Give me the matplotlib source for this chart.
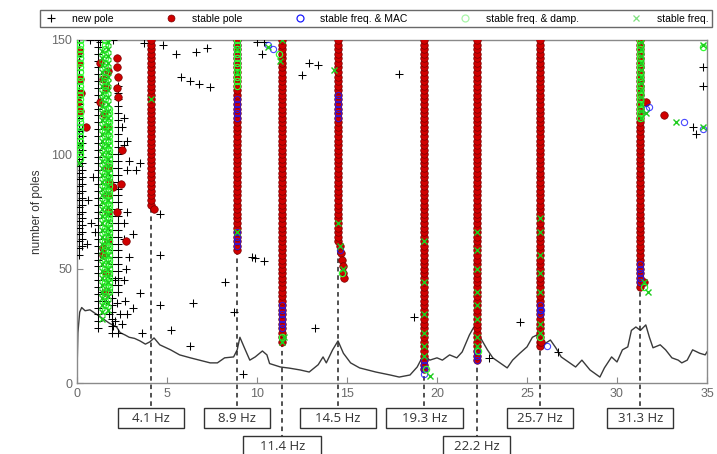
import numpy as np
import matplotlib
matplotlib.use("Agg")
import matplotlib.pyplot as plt
from matplotlib.lines import Line2D
from matplotlib.patches import Rectangle

# ---------------------------------------------------------------- data
# Averaged response spectrum, scaled onto the model-order axis
spec_freq = [0.0, 0.05, 0.15, 0.26, 0.45, 0.72, 1.0, 1.28, 1.55, 1.83, 2.2, 2.4,
             2.67, 2.9, 3.2, 3.5, 3.8, 4.05, 4.28, 4.6, 5.2, 5.7, 6.3, 6.8, 7.4,
             7.8, 8.2, 8.7, 8.9, 9.05, 9.3, 9.6, 9.9, 10.3, 10.55, 10.7, 11.3,
             11.8, 12.4, 12.9, 13.4, 13.67, 13.85, 14.2, 14.5, 14.8, 15.2, 15.7,
             16.6, 17.4, 17.9, 18.5, 18.9, 19.25, 19.6, 20.0, 20.3, 20.7, 21.1,
             21.4, 21.8, 22.05, 22.4, 22.8, 23.1, 23.5, 23.9, 24.2, 24.6, 25.0,
             25.3, 25.55, 25.9, 26.3, 26.6, 26.9, 27.3, 27.7, 28.05, 28.5, 29.05,
             29.3, 29.7, 30.0, 30.3, 30.6, 30.8, 31.05, 31.3, 31.6, 31.8, 32.0,
             32.4, 32.7, 33.05, 33.4, 33.6, 33.9, 34.2, 34.6, 34.9, 35.0]
spec_level = [5.0, 22.0, 31.0, 33.0, 31.6, 32.0, 30.5, 29.0, 27.5, 26.0, 24.5, 22.0,
              21.0, 20.0, 19.5, 18.4, 17.0, 18.0, 19.7, 16.7, 14.5, 12.3, 11.0, 10.0, 8.8,
              8.8, 11.0, 11.4, 14.5, 20.0, 15.4, 10.0, 11.4, 14.0, 12.3, 8.5, 7.0,
              6.5, 5.7, 4.8, 8.0, 11.4, 8.8, 14.5, 18.4, 13.0, 8.8, 6.6,
              4.8, 3.5, 2.6, 3.5, 7.0, 12.3, 10.0, 11.0, 10.0, 12.3, 11.0,
              13.6, 21.0, 24.5, 20.0, 14.5, 11.0, 8.8, 6.6, 10.0, 13.0, 15.8,
              20.0, 21.0, 16.7, 18.8, 15.4, 11.4, 9.2, 7.0, 10.0, 5.7, 2.6,
              6.6, 11.4, 9.2, 14.5, 15.8, 23.0, 24.5, 23.0, 25.4, 20.0, 15.4,
              16.7, 14.5, 11.0, 10.0, 8.8, 10.0, 14.5, 13.0, 12.3, 13.6]

# Identified modes
mode_freq = [4.1, 8.9, 11.4, 14.5, 19.3, 22.2, 25.7, 31.3]
mode_label = ["4.1 Hz", "8.9 Hz", "11.4 Hz", "14.5 Hz", "19.3 Hz", "22.2 Hz",
              "25.7 Hz", "31.3 Hz"]
mode_row = [0, 0, 1, 0, 0, 1, 0, 0]

# Stable-pole columns: frequency and lowest/highest model order
col_freq = [4.1, 8.9, 11.4, 14.5, 19.3, 22.2, 25.7, 31.3]
col_lo = [78, 58, 18, 62, 6, 10, 16, 42]
col_hi = [150, 150, 150, 150, 150, 150, 150, 150]

# Isolated stable poles
stab_f = [0.1, 0.12, 0.15, 0.05, 0.2, 0.5, 0.15,
          1.3, 1.7, 1.45, 1.6, 1.3, 1.5, 1.65,
          2.2, 2.2, 2.25, 2.2, 2.3,
          2.5, 1.7, 1.8, 2.0, 2.45, 1.7, 2.2, 1.7, 2.7, 1.7, 1.45, 1.45, 1.6, 1.55,
          4.3, 14.6, 14.65, 14.7, 14.75, 14.8, 14.85,
          31.5, 31.6, 32.6, 25.8]
stab_n = [145, 140, 133, 123, 127, 112, 119,
          140, 136.6, 133, 129, 123, 117.6, 112,
          142, 138, 134, 129, 125,
          102, 94.5, 88, 85.5, 87, 82, 74.6, 74.6, 62, 62, 59, 56, 48, 40,
          76, 60, 57, 54, 51, 48, 46,
          44, 123, 117, 18]

# Stable frequency & MAC poles (blue): column runs and single poles
mac_seg_f = [8.9, 8.9, 8.9, 11.4, 14.5, 19.3, 22.2, 25.7, 31.3, 0.15]
mac_seg_lo = [116, 60, 140, 24, 116, 4, 10, 30, 44, 110]
mac_seg_hi = [124, 66, 150, 34, 126, 10, 14, 34, 52, 114]
mac_f = [26.1, 10.6, 10.9, 31.6, 31.8, 33.7, 34.8, 0.15, 14.6, 25.8]
mac_n = [16, 148, 146, 120, 120.5, 114, 111, 142, 58, 32]

# Stable frequency & damping poles (light green circles)
damp_seg_f = [31.3, 1.55, 0.15, 8.9, 1.75]
damp_seg_lo = [116, 32, 98, 130, 40]
damp_seg_hi = [150, 150, 150, 150, 120]
damp_f = [11.4, 19.4, 22.3, 25.7, 14.7, 31.5, 34.8, 11.2]
damp_n = [20, 6, 14, 20, 48, 42, 147, 144]

# Stable frequency poles (green crosses)
sfreq_seg_f = [31.35, 1.4, 1.7]
sfreq_seg_lo = [116, 28, 32]
sfreq_seg_hi = [150, 146, 150]
sfreq_f = [19.3, 19.3, 19.3, 19.3, 19.3, 19.3, 19.6,
           22.2, 22.2, 22.2, 22.2, 22.2, 22.2, 22.2, 22.2,
           25.7, 25.7, 25.7, 25.7, 25.7, 25.7, 25.7,
           14.5, 14.6, 14.8, 11.4, 11.5, 11.4, 8.9, 8.9, 8.9, 4.1,
           14.3, 31.7, 31.5, 10.6, 11.3, 34.8, 33.3, 34.8, 31.6, 0.15, 0.1]
sfreq_n = [62, 44, 30, 22, 16, 12, 3,
           66, 58, 50, 40, 34, 28, 20, 16,
           72, 66, 56, 48, 40, 26, 22,
           70, 60, 50, 18, 20, 150, 66, 136, 146, 124,
           137, 40, 44, 147, 141, 112, 114, 148, 118, 104, 96]

# Unstable (new) poles: vertical runs and single poles
new_seg_f = [0.1, 0.3, 1.15, 1.95, 2.3]
new_seg_lo = [56, 60, 24, 22, 40]
new_seg_hi = [150, 112, 150, 100, 130]
new_f = [0.7, 1.3, 2.0, 3.7, 4.8, 5.5, 6.6, 7.2, 5.8, 6.3, 6.8, 7.4, 10.0, 10.4,
         10.3, 12.5, 12.9, 13.4, 17.9,
         2.5, 2.6, 2.75, 3.3, 2.6, 2.8, 2.9, 3.5, 2.6, 0.55,
         3.1, 3.5, 3.1, 2.67, 2.1, 3.6, 2.8, 2.5, 2.3, 2.0, 1.8, 2.6, 2.7, 2.9,
         2.6, 2.8, 0.6, 0.8, 1.0, 1.4, 2.2, 2.4, 2.1, 1.6, 0.9,
         4.6, 4.6, 4.6, 6.45, 5.2, 6.3, 8.2, 8.7, 9.7, 9.9, 10.4, 13.2, 18.7,
         9.2, 24.6, 22.9, 26.7, 34.4, 34.2, 34.8, 34.8]
new_n = [150, 149, 150, 148.5, 147.8, 143.8, 144.7, 146.5, 134, 132, 130.7, 129.4,
         149, 149, 144, 134.6, 140, 139, 135,
         112, 104, 93, 93, 116, 106, 97, 96, 63, 61,
         65, 39.5, 33, 36, 27, 22, 30, 26, 22, 25, 30, 45, 50, 55,
         70, 75, 80, 70, 66, 40, 35, 30, 45, 36, 90,
         73.7, 56, 34, 35, 23, 16, 44, 31, 55, 54.5, 53.5, 24, 29,
         4, 26.8, 11, 13.6, 109, 112, 138, 130]

x_ticks = [0, 5, 10, 15, 20, 25, 30, 35]
y_ticks = [0, 50, 100, 150]


def runs(freqs, lows, highs, step=2):
    """Expand (frequency, order range) runs into individual poles."""
    fs, ns = [], []
    for f, lo, hi in zip(freqs, lows, highs):
        orders = np.arange(lo, hi + 1, step)
        fs.extend([f] * len(orders))
        ns.extend(orders)
    return np.array(fs, float), np.array(ns, float)


# ---------------------------------------------------------------- figure
W, H = 717, 454
fig = plt.figure(figsize=(W / 100, H / 100), dpi=100)
ax = fig.add_axes([77 / W, 1 - 383 / H, 630 / W, 343 / H])

axis_grey = "#8a8a8a"
red_face, red_edge = "#d00000", "#7a0000"
blue = "#1a1aff"
light_green = "#33ff33"
green = "#1fcc1f"

# spectrum
ax.plot(spec_freq, spec_level, color="#3a3a3a", lw=1.0, zorder=2)

# dashed guides from each mode to its label box
row_bottom = [-10.9, -23.2]
for f, r in zip(mode_freq, mode_row):
    ax.plot([f, f], [150, row_bottom[r]], ls=(0, (3, 2.5)), color="#222222",
            lw=1.1, clip_on=False, zorder=2.5)

# new poles
nf, nn = runs(new_seg_f, new_seg_lo, new_seg_hi, step=3)
ax.plot(np.r_[nf, new_f], np.r_[nn, new_n], "+", color="black", ms=6, mew=0.75,
        zorder=3)

# stable poles
sf, sn = runs(col_freq, col_lo, col_hi)
ax.plot(np.r_[sf, stab_f], np.r_[sn, stab_n], "o", mfc=red_face, mec=red_edge,
        ms=5.4, mew=0.5, zorder=4)

# stable frequency & MAC
mf, mn = runs(mac_seg_f, mac_seg_lo, mac_seg_hi)
ax.plot(np.r_[mf, mac_f], np.r_[mn, mac_n], "o", mfc="none", mec=blue,
        ms=4.5, mew=0.8, alpha=0.8, zorder=5)

# stable frequency & damping
df_, dn = runs(damp_seg_f, damp_seg_lo, damp_seg_hi)
ax.plot(np.r_[df_, damp_f], np.r_[dn, damp_n], "o", mfc="none", mec=light_green,
        ms=4.5, mew=0.9, zorder=6)

# stable frequency
xf, xn = runs(sfreq_seg_f, sfreq_seg_lo, sfreq_seg_hi, step=3)
ax.plot(np.r_[xf, sfreq_f], np.r_[xn, sfreq_n], "x", color=green, ms=4, mew=1.0,
        zorder=7)

ax.set_xlim(0, 35)
ax.set_ylim(0, 150)
ax.set_xticks(x_ticks)
ax.set_yticks(y_ticks)
ax.tick_params(direction="in", length=4, width=0.8, colors=axis_grey,
               labelcolor="#6a6a6a", labelsize=9)
for s in ax.spines.values():
    s.set_color(axis_grey)
    s.set_linewidth(1.0)
for lab in ax.get_xticklabels() + ax.get_yticklabels():
    lab.set_fontfamily("Liberation Sans")
ax.set_ylabel("number of poles", fontsize=8.5, color="#333333",
              family="Liberation Sans", labelpad=6)

# legend across the top
handles = [
    Line2D([], [], ls="none", marker="+", color="black", ms=6, mew=0.8),
    Line2D([], [], ls="none", marker="o", mfc=red_face, mec=red_edge, ms=5, mew=0.5),
    Line2D([], [], ls="none", marker="o", mfc="none", mec=blue, ms=5, mew=0.9),
    Line2D([], [], ls="none", marker="o", mfc="none", mec="#a8f5a8", ms=5, mew=0.9),
    Line2D([], [], ls="none", marker="x", color="#7fe07f", ms=4, mew=0.9),
]
labels = ["new pole", "stable pole", "stable freq. & MAC",
          "stable freq. & damp.", "stable freq."]
leg = fig.legend(handles, labels, ncol=5, loc="center", mode="expand",
                 bbox_to_anchor=(40 / W, 1 - 31 / H, 672 / W, 25 / H),
                 fancybox=False, frameon=True, edgecolor="#444444",
                 prop={"family": "Liberation Sans", "size": 7.5},
                 handletextpad=1.2, borderaxespad=0, handlelength=1.5,
                 columnspacing=1.0, borderpad=0.35)
leg.get_frame().set_linewidth(1.0)

# frequency label boxes
box_w = [66, 66, 78, 77, 77, 67, 66, 66]
row_top = [408, 436]
box_h = 20
for f, lab, r, w in zip(mode_freq, mode_label, mode_row, box_w):
    cx = ax.transData.transform((f, 0))[0]
    top = row_top[r]
    fig.patches.append(Rectangle(((cx - w / 2) / W, 1 - (top + box_h) / H),
                                 w / W, box_h / H, transform=fig.transFigure,
                                 facecolor="white", edgecolor="#333333",
                                 lw=1.0, zorder=5))
    fig.text(cx / W, 1 - (top + box_h / 2) / H, lab, ha="center", va="center",
             fontsize=9.5, family="Open Sans", color="#333333", zorder=6)

fig.savefig("out.png", dpi=100)
